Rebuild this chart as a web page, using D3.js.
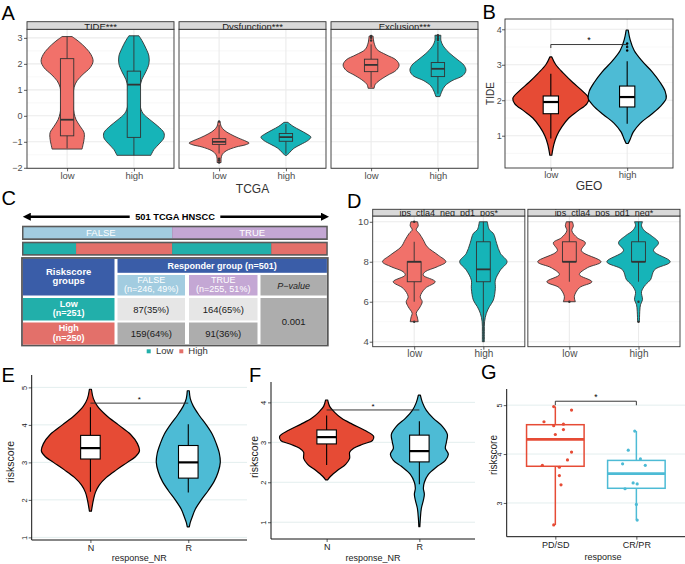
<!DOCTYPE html>
<html>
<head>
<meta charset="utf-8">
<script src="https://cdn.jsdelivr.net/npm/d3@7"></script>
<style>
  body { margin: 0; background: #fff; }
  svg { display: block; }
</style>
</head>
<body>
<svg id="fig"></svg>
<script>
// ---------- A: TCGA, TIDE / Dysfunction / Exclusion ----------
const riskLevels = ["low", "high"];
const tcgaFacets = ["TIDE***", "Dysfunction***", "Exclusion***"];
// violin profiles: [value, density] from top to bottom
const tideLowDens = [[3.05,5],[2.85,12],[2.6,19],[2.35,24],[2.1,26],[1.85,23],[1.6,16],[1.35,10],[1.1,7],[0.8,6],[0.4,6],[0.1,7],[-0.15,9],[-0.4,13],[-0.65,17],[-0.9,17],[-1.1,16],[-1.28,15]];
const tideLowBox = [-1.25, -0.77, -0.15, 2.2, 3.05];   // min, q1, median, q3, max
const tideHighDens = [[3.08,5],[2.9,8],[2.6,12],[2.3,15],[2.0,15],[1.7,12],[1.4,8],[1.1,6],[0.7,5],[0.4,6],[0.1,9],[-0.15,16],[-0.4,24],[-0.65,30],[-0.85,30],[-1.05,26],[-1.3,20],[-1.52,17]];
const tideHighBox = [-1.52, -0.83, 1.2, 1.72, 3.08];
const dysLowDens = [[-0.22,1],[-0.4,2],[-0.55,5],[-0.7,11],[-0.85,19],[-0.98,27],[-1.05,30],[-1.12,26],[-1.2,17],[-1.35,7],[-1.5,3],[-1.65,2],[-1.8,2]];
const dysLowBox = [-1.45, -1.1, -1.0, -0.88, -0.35];
const dysLowOut = [-0.22, -1.65, -1.72, -1.8];
const dysHighDens = [[-0.25,2],[-0.4,7],[-0.55,14],[-0.7,21],[-0.82,25],[-0.95,22],[-1.1,15],[-1.25,8],[-1.4,4],[-1.52,1]];
const dysHighBox = [-1.46, -0.98, -0.82, -0.68, -0.32];
const excLowDens = [[3.07,2],[2.8,3],[2.55,6],[2.35,15],[2.15,25],[1.95,28],[1.75,25],[1.55,16],[1.35,8],[1.2,4],[1.06,3]];
const excLowBox = [1.1, 1.7, 1.96, 2.18, 2.75];
const excLowOut = [2.9, 3.0, 3.07];
const excHighDens = [[3.1,3],[2.9,3],[2.65,6],[2.4,12],[2.15,20],[1.95,26],[1.75,28],[1.55,25],[1.35,14],[1.15,7],[0.95,4],[0.74,2]];
const excHighBox = [0.85, 1.51, 1.81, 2.05, 2.85];
const excHighOut = [2.92, 2.98, 3.04, 3.1];
const aTicks = [-2, -1, 0, 1, 2, 3];

// ---------- B: GEO TIDE ----------
const geoLowDens = [[3.22,1],[3.0,5],[2.75,13],[2.5,22],[2.25,32],[2.05,38],[1.9,36],[1.7,27],[1.5,18],[1.25,11],[1.0,6],[0.75,3],[0.45,1]];
const geoLowBox = [0.92, 1.62, 1.95, 2.12, 2.75];
const geoHighDens = [[3.98,1],[3.7,3],[3.4,7],[3.1,15],[2.8,25],[2.5,33],[2.25,38],[2.05,39],[1.85,34],[1.6,24],[1.35,13],[1.1,6],[0.9,3],[0.78,1]];
const geoHighBox = [1.34, 1.81, 2.09, 2.4, 3.1];
const geoHighOut = [3.4, 3.5, 3.6];
const geoSigAt = 3.57;
const bTicks = [1, 2, 3, 4];

// ---------- C: responder table ----------
const riskGroups = ["Low", "High"];
const riskN = [251, 250];
const responderGroups = ["FALSE", "TRUE"];
const responderN = [246, 255];
const responderPct = [49, 51];
const counts = [[87, 164], [159, 91]];       // rows: Low, High ; cols: FALSE, TRUE
const countPct = [[35, 65], [64, 36]];
const pValue = "0.001";

// ---------- D: IPS ----------
const ipsFacets = ["ips_ctla4_neg_pd1_pos*", "ips_ctla4_pos_pd1_neg*"];
const ips1LowDens = [[10,3.3],[9.8,4],[9.6,2],[9.42,5],[9.1,9],[8.75,13],[8.33,24],[8.0,31.7],[7.75,23],[7.5,11],[7.33,9],[7.0,21],[6.67,11],[6.25,6],[6.0,8],[5.75,6],[5.42,2],[5.25,3],[5.0,4]];
const ips1LowBox = [6, 7, 8, 8, 9];
const ips1LowOut = [10, 5];
const ips1HighDens = [[10,4],[9.6,6],[9.42,10],[8.92,13.3],[8.42,17],[8.0,23.7],[7.58,17],[7.08,12],[6.67,12],[6.08,10],[5.75,6],[5.42,3],[5.0,1.2],[4.5,1],[4.0,1]];
const ips1HighBox = [4, 7, 7.62, 9, 10];
const ips2LowDens = [[10,3],[9.8,4],[9.55,2.5],[9.2,8],[8.95,16],[8.55,12],[8.0,31.7],[7.7,18],[7.36,10],[7.0,22.5],[6.7,10],[6.27,5],[6.0,6]];
const ips2LowBox = [7, 8, 8, 9, 10];
const ips2LowOut = [6];
const ips2HighDens = [[10,4],[9.8,3],[9.55,6],[9.3,13],[8.95,20],[8.55,15],[8.0,31.7],[7.6,16],[7.1,12],[6.85,7],[6.5,3],[6.1,4],[5.85,2],[5.2,1],[5.0,1]];
const ips2HighBox = [7, 8, 8, 9, 10];
const ips2HighOut = [6, 5];
const dTicks = [4, 6, 8, 10];

// ---------- E / F: riskscore by response ----------
const respNR = ["N", "R"];
const eNDens = [[4.95,1],[4.7,3],[4.5,7],[4.25,16],[4.0,28],[3.75,40],[3.5,47],[3.3,49],[3.15,45],[3.0,37],[2.8,26],[2.6,16],[2.4,9],[2.2,5],[2.0,3],[1.7,1]];
const eNBox = [2.22, 3.09, 3.38, 3.72, 4.47];
const eRDens = [[4.91,1],[4.7,2],[4.5,5],[4.25,11],[4.0,18],[3.75,24],[3.5,28],[3.25,31],[3.0,32],[2.75,30],[2.5,26],[2.25,20],[2.0,13],[1.75,7],[1.55,4],[1.4,2],[1.28,1]];
const eRBox = [2.2, 2.58, 3.0, 3.45, 4.02];
const eSigAt = 4.58;
const eTicks = [1, 2, 3, 4, 5];
const fNDens = [[4.06,1],[3.9,3],[3.75,8],[3.6,15],[3.45,26],[3.3,38],[3.15,47],[3.05,46],[2.95,36],[2.85,27],[2.75,23],[2.6,23],[2.45,19],[2.3,11],[2.15,4],[2.06,1]];
const fNBox = [2.43, 2.96, 3.13, 3.31, 3.67];
const fRDens = [[4.18,1],[4.0,3],[3.8,7],[3.6,14],[3.4,23],[3.2,28],[3.0,27],[2.85,26],[2.7,29],[2.55,26],[2.4,18],[2.2,9],[2.0,5],[1.85,4],[1.7,5],[1.55,4],[1.35,2],[1.1,1],[0.89,0.5]];
const fRBox = [1.95, 2.51, 2.78, 3.18, 3.53];
const fSigAt = 3.81;
const fTicks = [1, 2, 3, 4];

// ---------- G: riskscore by clinical response ----------
const respClin = ["PD/SD", "CR/PR"];
const pdValues = [4.97, 4.9, 4.66, 4.61, 4.58, 4.5, 4.4, 4.04, 3.88, 3.77, 3.73, 3.56, 3.37, 2.55];
const pdJitter = [-0.02, 0.2, -0.14, 0.1, -0.02, 0.1, 0, 0.2, 0.15, -0.16, 0.05, 0.05, 0.07, -0.02];
const crValues = [4.47, 4.08, 3.9, 3.8, 3.77, 3.41, 3.39, 3.29, 2.97, 2.65];
const crJitter = [-0.02, -0.1, 0.05, -0.17, 0.11, -0.04, 0.01, -0.14, 0, 0.01];
const pdBox = [2.55, 3.75, 4.3, 4.6, 4.97];
const crBox = [2.65, 3.3, 3.6, 3.87, 4.47];
const gSigAt = 5.08;
const gTicks = [3, 4, 5];

// ---------- drawing ----------
const FONT = "'Liberation Sans', Arial, Helvetica, sans-serif";
const RED = "#F1716A", TEAL = "#16B4B8";
const NRED = "#E64B35", NBLUE = "#4DBBD5";
const CTEAL = "#22AFAA", CRED = "#E3706A";
const svg = d3.select("#fig").attr("width", 685).attr("height", 564).style("font-family", FONT);
svg.append("rect").attr("width", 685).attr("height", 564).attr("fill", "#fff");
const defs = svg.append("defs");
const lhFill = d3.scaleOrdinal().domain(riskLevels).range([RED, TEAL]);
const intFmt = d3.format("d");

function txt(g, x, y, s, o = {}) {
  return g.append("text").attr("x", x).attr("y", y).text(s)
    .attr("font-size", o.size || 9).attr("fill", o.fill || "#000")
    .attr("text-anchor", o.anchor || "middle")
    .attr("font-weight", o.weight || null).attr("font-style", o.style || null);
}
function vtxt(g, x, y, s, o = {}) {
  return g.append("text").attr("transform", `translate(${x},${y}) rotate(-90)`).text(s)
    .attr("font-size", o.size || 9).attr("fill", o.fill || "#000").attr("text-anchor", "middle");
}

function drawViolin(g, v, cx, y, w, st) {
  const area = d3.area().curve(d3.curveCatmullRom)
    .y(d => y(d[0])).x0(d => cx - w(d[1])).x1(d => cx + w(d[1]));
  g.append("path").attr("d", area(v.dens)).attr("fill", v.fill)
    .attr("stroke", st.line).attr("stroke-width", st.vw).attr("stroke-linejoin", "round");
  const [lo, q1, md, q3, hi] = v.box;
  const bh = st.boxHalf;
  g.append("line").attr("x1", cx).attr("x2", cx).attr("y1", y(hi)).attr("y2", y(lo))
    .attr("stroke", st.line).attr("stroke-width", st.bw);
  g.append("rect").attr("x", cx - bh).attr("width", 2 * bh)
    .attr("y", y(q3)).attr("height", y(q1) - y(q3))
    .attr("fill", st.boxFill || v.fill).attr("stroke", st.line).attr("stroke-width", st.bw);
  g.append("line").attr("x1", cx - bh).attr("x2", cx + bh).attr("y1", y(md)).attr("y2", y(md))
    .attr("stroke", st.line).attr("stroke-width", st.mw);
  g.selectAll(null).data(v.out || []).join("circle")
    .attr("cx", cx).attr("cy", d => y(d)).attr("r", st.or).attr("fill", st.line);
}

function bwFrame(g, left, right, y, x, major, minor) {
  const top = y.range()[1], bottom = y.range()[0];
  g.append("rect").attr("x", left).attr("y", top).attr("width", right - left).attr("height", bottom - top).attr("fill", "#fff");
  g.selectAll(null).data(minor).join("line").attr("x1", left).attr("x2", right)
    .attr("y1", d => y(d)).attr("y2", d => y(d)).attr("stroke", "#F3F3F3").attr("stroke-width", 0.6);
  g.selectAll(null).data(major).join("line").attr("x1", left).attr("x2", right)
    .attr("y1", d => y(d)).attr("y2", d => y(d)).attr("stroke", "#EBEBEB").attr("stroke-width", 1.1);
  g.selectAll(null).data(x.domain()).join("line").attr("x1", d => x(d)).attr("x2", d => x(d))
    .attr("y1", top).attr("y2", bottom).attr("stroke", "#EBEBEB").attr("stroke-width", 1.1);
}
function bwBorder(g, left, right, y) {
  const top = y.range()[1], bottom = y.range()[0];
  g.append("rect").attr("x", left).attr("y", top).attr("width", right - left).attr("height", bottom - top)
    .attr("fill", "none").attr("stroke", "#333").attr("stroke-width", 0.9);
}
function strip(g, left, right, top, bottom, label, id, size) {
  defs.append("clipPath").attr("id", id).append("rect")
    .attr("x", left).attr("y", top).attr("width", right - left).attr("height", bottom - top);
  g.append("rect").attr("x", left).attr("y", top).attr("width", right - left).attr("height", bottom - top)
    .attr("fill", "#D9D9D9").attr("stroke", "#333").attr("stroke-width", 0.9);
  txt(g, (left + right) / 2, bottom + 0.4, label, { size, fill: "#1A1A1A" }).attr("clip-path", `url(#${id})`);
}
function styleAxis(a, size, color) {
  a.select(".domain").remove();
  a.selectAll(".tick line").attr("stroke", "#333").attr("stroke-width", 0.8);
  a.selectAll(".tick text").attr("fill", color).attr("font-size", size).attr("font-family", FONT);
}
function bwAxes(g, x, y, ticks, showY, size, pad) {
  const bottom = y.range()[0];
  const ax = g.append("g").attr("transform", `translate(0,${bottom})`)
    .call(d3.axisBottom(x).tickSize(3).tickPadding(0.5));
  styleAxis(ax, size, "#4D4D4D");
  if (showY) {
    const ay = g.append("g").attr("transform", `translate(${x.range()[0]},0)`)
      .call(d3.axisLeft(y).tickValues(ticks).tickFormat(intFmt).tickSize(3).tickPadding(pad));
    styleAxis(ay, size - 0.5, "#4D4D4D");
  }
}
function bracket(g, x1, x2, yp, tip, label, size) {
  g.append("path").attr("d", `M${x1},${yp + tip}V${yp}H${x2}V${yp + tip}`)
    .attr("fill", "none").attr("stroke", "#222").attr("stroke-width", 0.9);
  txt(g, (x1 + x2) / 2, yp - 1.2, label, { size });
}
function classicAxes(g, x, y, ticks, right, size) {
  const left = x.range()[0], top = y.range()[1], bottom = y.range()[0];
  g.selectAll(null).data(ticks).join("line").attr("x1", left).attr("x2", right)
    .attr("y1", d => y(d)).attr("y2", d => y(d)).attr("stroke", "#E3EEEE").attr("stroke-width", 1);
  const ay = g.append("g").attr("transform", `translate(${left},0)`)
    .call(d3.axisLeft(y).tickValues(ticks).tickSize(3).tickFormat(intFmt));
  styleAxis(ay, size, "#222");
  ay.selectAll(".tick text").attr("x", 0).attr("dy", null).attr("y", -5)
    .attr("transform", "rotate(-90)").attr("text-anchor", "middle");
  const ax = g.append("g").attr("transform", `translate(0,${bottom})`)
    .call(d3.axisBottom(x).tickSize(3).tickPadding(2));
  styleAxis(ax, 9, "#222");
  g.append("line").attr("x1", left).attr("x2", left).attr("y1", top).attr("y2", bottom).attr("stroke", "#111").attr("stroke-width", 1);
  g.append("line").attr("x1", left).attr("x2", right).attr("y1", bottom).attr("y2", bottom).attr("stroke", "#111").attr("stroke-width", 1);
}

// panel letters
[["A", 1.5, 20], ["B", 482.5, 18.5], ["C", 1.5, 205], ["D", 347, 207.7], ["E", 1.5, 381.5], ["F", 249, 381.5], ["G", 481, 379.3]]
  .forEach(([s, x, y]) => txt(svg, x, y, s, { size: 20, anchor: "start" }));

// ----- A -----
const aBand = d3.scaleBand().domain(tcgaFacets).range([27, 478]).paddingInner(0.033);
const yA = d3.scaleLinear().domain([-2.02, 3.33]).range([168.3, 29.3]);
const wA = d3.scaleLinear().domain([0, 30]).range([0, 30]);
const tcgaViolins = [
  { facet: tcgaFacets[0], group: "low", dens: tideLowDens, box: tideLowBox },
  { facet: tcgaFacets[0], group: "high", dens: tideHighDens, box: tideHighBox },
  { facet: tcgaFacets[1], group: "low", dens: dysLowDens, box: dysLowBox, out: dysLowOut },
  { facet: tcgaFacets[1], group: "high", dens: dysHighDens, box: dysHighBox },
  { facet: tcgaFacets[2], group: "low", dens: excLowDens, box: excLowBox, out: excLowOut },
  { facet: tcgaFacets[2], group: "high", dens: excHighDens, box: excHighBox, out: excHighOut }
];
tcgaFacets.forEach((f, i) => {
  const left = aBand(f), right = left + aBand.bandwidth();
  const x = d3.scalePoint().domain(riskLevels).range([left, right]).padding(0.6);
  const g = svg.append("g");
  bwFrame(g, left, right, yA, x, aTicks, [-1.5, -0.5, 0.5, 1.5, 2.5]);
  tcgaViolins.filter(v => v.facet === f).forEach(v =>
    drawViolin(g, { ...v, fill: lhFill(v.group) }, x(v.group), yA, wA,
      { line: "#333", vw: 0.9, bw: 0.9, mw: 1.8, boxHalf: 0.1 * x.step(), or: 1.2 }));
  bwBorder(g, left, right, yA);
  strip(g, left, right, 21.7, yA.range()[1], f, "stripA" + i, 9.5);
  bwAxes(g, x, yA, aTicks, i === 0, 9.5, 1.5);
});
txt(svg, 252.5, 193, "TCGA", { size: 12, fill: "#333" });

// ----- B -----
{
  const g = svg.append("g");
  const x = d3.scalePoint().domain(riskLevels).range([505, 673]).padding(0.6);
  const y = d3.scaleLinear().domain([0.09, 4.29]).range([168, 19]);
  const w = d3.scaleLinear().domain([0, 40]).range([0, 40]);
  bwFrame(g, 505, 673, y, x, bTicks, [0.5, 1.5, 2.5, 3.5]);
  const st = { line: "#000", vw: 1.2, bw: 1.1, mw: 2.2, boxHalf: 0.1 * x.step(), boxFill: "#fff", or: 1.2 };
  drawViolin(g, { dens: geoLowDens, box: geoLowBox, fill: NRED }, x("low"), y, w, st);
  drawViolin(g, { dens: geoHighDens, box: geoHighBox, out: geoHighOut, fill: NBLUE }, x("high"), y, w, st);
  bwBorder(g, 505, 673, y);
  bwAxes(g, x, y, bTicks, true, 9.5, 0.3);
  bracket(g, x("low"), x("high"), y(geoSigAt), 3.5, "*", 9);
  txt(svg, 589, 190, "GEO", { size: 12, fill: "#333" });
  vtxt(svg, 493.5, 93.5, "TIDE", { size: 10, fill: "#333" });
}

// ----- C -----
{
  const g = svg.append("g");
  const total = d3.sum(responderN);
  const cL = 22, cR = 327.8;
  defs.append("marker").attr("id", "arr").attr("viewBox", "0 0 10 10").attr("refX", 6).attr("refY", 5)
    .attr("markerUnits", "userSpaceOnUse").attr("markerWidth", 9).attr("markerHeight", 8)
    .attr("orient", "auto-start-reverse").append("path").attr("d", "M0,0L10,5L0,10z").attr("fill", "#000");
  g.append("line").attr("x1", cL + 4).attr("x2", cR - 2).attr("y1", 216.7).attr("y2", 216.7)
    .attr("stroke", "#000").attr("stroke-width", 2.4)
    .attr("marker-start", "url(#arr)").attr("marker-end", "url(#arr)");
  const title = `${total} TCGA HNSCC`;
  const tw = title.length * 5.9;
  g.append("rect").attr("x", 175 - tw / 2 - 4).attr("y", 211).attr("width", tw + 8).attr("height", 11).attr("fill", "#fff");
  txt(g, 175, 220, title, { size: 9.3, weight: "bold" });

  const xC = d3.scaleLinear().domain([0, total]).range([cL + 1.5, cR - 1.5]);
  // bar 1: responder status
  g.append("rect").attr("x", cL).attr("y", 225.7).attr("width", cR - cL).attr("height", 14.3).attr("fill", "#5A5A5A");
  const respFill = d3.scaleOrdinal().domain(responderGroups).range(["#A2CCE0", "#C4A7D4"]);
  const respStart = d3.cumsum([0, ...responderN]);
  responderGroups.forEach((r, i) => {
    g.append("rect").attr("x", xC(respStart[i])).attr("width", xC(respStart[i + 1]) - xC(respStart[i]))
      .attr("y", 227.3).attr("height", 11).attr("fill", respFill(r));
    txt(g, (xC(respStart[i]) + xC(respStart[i + 1])) / 2 + 3, 236, r, { size: 9.5, fill: "#fff" });
  });
  // bar 2: risk group inside each responder group
  g.append("rect").attr("x", cL).attr("y", 241.7).attr("width", cR - cL).attr("height", 14).attr("fill", "#5A5A5A");
  const riskFill = d3.scaleOrdinal().domain(riskGroups).range([CTEAL, CRED]);
  const segs = [];
  responderGroups.forEach((r, j) => riskGroups.forEach((k, i) => segs.push({ k, n: counts[i][j] })));
  const segStart = d3.cumsum([0, ...segs.map(s => s.n)]);
  segs.forEach((s, i) => g.append("rect").attr("x", xC(segStart[i])).attr("width", xC(segStart[i + 1]) - xC(segStart[i]))
    .attr("y", 243.3).attr("height", 10.8).attr("fill", riskFill(s.k)));

  // table
  g.append("rect").attr("x", cL).attr("y", 258).attr("width", cR - cL).attr("height", 87.5)
    .attr("fill", "#fff").attr("stroke", "#575757").attr("stroke-width", 1.8);
  const colX = [[22.9, 114.5], [117.5, 185], [189, 257.5], [260.5, 326.9]];
  const rowY = [[258.9, 272.8], [275, 295.5], [298, 320.5], [322.5, 344.6]];
  function cell(c0, c1, r0, r1, fill, lines, o) {
    const x0 = colX[c0][0], x1 = colX[c1][1], y0 = rowY[r0][0], y1 = rowY[r1][1];
    g.append("rect").attr("x", x0).attr("y", y0).attr("width", x1 - x0).attr("height", y1 - y0).attr("fill", fill);
    const cx = (x0 + x1) / 2, cy = (y0 + y1) / 2;
    if (lines.length === 1) txt(g, cx, cy + 3.3, lines[0], o);
    else { txt(g, cx, cy - 2.6, lines[0], o); txt(g, cx, cy + 7.2, lines[1], o); }
  }
  const head = { size: 9, fill: "#fff", weight: "bold" };
  cell(0, 0, 0, 1, "#3A5DA8", ["Riskscore", "groups"], { ...head, size: 9.5 });
  cell(1, 3, 0, 0, "#3A5DA8", [`Responder group (n=${total})`], head);
  responderGroups.forEach((r, j) =>
    cell(j + 1, j + 1, 1, 1, respFill(r), [r, `(n=${responderN[j]}, ${responderPct[j]}%)`], { size: 9, fill: "#fff" }));
  cell(3, 3, 1, 1, "#ADADAD", ["P\u2212value"], { size: 9, fill: "#222", style: "italic" });
  riskGroups.forEach((k, i) => {
    cell(0, 0, i + 2, i + 2, riskFill(k), [k, `(n=${riskN[i]})`], head);
    responderGroups.forEach((r, j) =>
      cell(j + 1, j + 1, i + 2, i + 2, i === 0 ? "#E6E6E6" : "#ADADAD", [`${counts[i][j]}(${countPct[i][j]}%)`], { size: 9.5, fill: "#1A1A1A" }));
  });
  cell(3, 3, 2, 3, "#ADADAD", [pValue], { size: 9.5, fill: "#1A1A1A" });

  // legend
  const lg = [["Low", 146.7, 156], ["High", 179.3, 188.3]];
  lg.forEach(([k, sx, tx]) => {
    g.append("rect").attr("x", sx).attr("y", 349.3).attr("width", 4).attr("height", 4).attr("fill", riskFill(k));
    txt(g, tx, 353.5, k, { size: 9.5, fill: "#333", anchor: "start" });
  });
}

// ----- D -----
{
  const dBand = d3.scaleBand().domain(ipsFacets).range([372.7, 680]).paddingInner(0.0194);
  const y = d3.scaleLinear().domain([3.75, 10.29]).range([346.7, 216]);
  const w = d3.scaleLinear().domain([0, 32]).range([0, 32]);
  const ipsViolins = [
    { facet: ipsFacets[0], group: "low", dens: ips1LowDens, box: ips1LowBox, out: ips1LowOut },
    { facet: ipsFacets[0], group: "high", dens: ips1HighDens, box: ips1HighBox },
    { facet: ipsFacets[1], group: "low", dens: ips2LowDens, box: ips2LowBox, out: ips2LowOut },
    { facet: ipsFacets[1], group: "high", dens: ips2HighDens, box: ips2HighBox, out: ips2HighOut }
  ];
  ipsFacets.forEach((f, i) => {
    const left = dBand(f), right = left + dBand.bandwidth();
    const x = d3.scalePoint().domain(riskLevels).range([left, right]).padding(0.6);
    const g = svg.append("g");
    bwFrame(g, left, right, y, x, dTicks, [5, 7, 9]);
    ipsViolins.filter(v => v.facet === f).forEach(v =>
      drawViolin(g, { ...v, fill: lhFill(v.group) }, x(v.group), y, w,
        { line: "#333", vw: 0.9, bw: 0.9, mw: 1.8, boxHalf: 0.1 * x.step(), or: 1.2 }));
    bwBorder(g, left, right, y);
    strip(g, left, right, 209.3, y.range()[1], f, "stripD" + i, 9);
    bwAxes(g, x, y, dTicks, i === 0, 10, 1);
  });
}

// ----- E -----
{
  const g = svg.append("g");
  const x = d3.scalePoint().domain(respNR).range([31.7, 247]).padding(0.6);
  const y = d3.scaleLinear().domain([0.93, 5.33]).range([540, 375]);
  const w = d3.scaleLinear().domain([0, 50]).range([0, 50]);
  classicAxes(g, x, y, eTicks, 247, 7.5);
  const st = { line: "#000", vw: 1.2, bw: 1.1, mw: 2.2, boxHalf: 0.1 * x.step(), boxFill: "#fff", or: 1.2 };
  drawViolin(g, { dens: eNDens, box: eNBox, fill: NRED }, x("N"), y, w, st);
  drawViolin(g, { dens: eRDens, box: eRBox, fill: NBLUE }, x("R"), y, w, st);
  bracket(g, x("N"), x("R"), y(eSigAt), 0, "*", 8);
  txt(svg, 139.3, 561, "response_NR", { size: 9, fill: "#222" });
  vtxt(svg, 13.5, 462, "riskscore", { size: 10.5, fill: "#222" });
}

// ----- F -----
{
  const g = svg.append("g");
  const x = d3.scalePoint().domain(respNR).range([271, 475]).padding(0.6);
  const y = d3.scaleLinear().domain([0.58, 4.51]).range([539, 382]);
  const w = d3.scaleLinear().domain([0, 50]).range([0, 50]);
  classicAxes(g, x, y, fTicks, 475, 7.5);
  const st = { line: "#000", vw: 1.2, bw: 1.1, mw: 2.2, boxHalf: 0.105 * x.step(), boxFill: "#fff", or: 1.2 };
  drawViolin(g, { dens: fNDens, box: fNBox, fill: NRED }, x("N"), y, w, st);
  drawViolin(g, { dens: fRDens, box: fRBox, fill: NBLUE }, x("R"), y, w, st);
  bracket(g, x("N"), x("R"), y(fSigAt), 0, "*", 8);
  txt(svg, 373, 561, "response_NR", { size: 9, fill: "#222" });
  vtxt(svg, 257.5, 457, "riskscore", { size: 10.5, fill: "#222" });
}

// ----- G -----
{
  const g = svg.append("g");
  const x = d3.scalePoint().domain(respClin).range([506.7, 685]).padding(0.6);
  const y = d3.scaleLinear().domain([2.31, 5.33]).range([536.7, 389]);
  classicAxes(g, x, y, gTicks, 685, 7);
  const groups = [
    { k: "PD/SD", vals: pdValues, jit: pdJitter, box: pdBox, col: NRED },
    { k: "CR/PR", vals: crValues, jit: crJitter, box: crBox, col: NBLUE }
  ];
  groups.forEach(gr => {
    const cx = x(gr.k), bh = 0.355 * x.step();
    const [lo, q1, md, q3, hi] = gr.box;
    g.append("line").attr("x1", cx).attr("x2", cx).attr("y1", y(hi)).attr("y2", y(q3)).attr("stroke", gr.col).attr("stroke-width", 1.5);
    g.append("line").attr("x1", cx).attr("x2", cx).attr("y1", y(q1)).attr("y2", y(lo)).attr("stroke", gr.col).attr("stroke-width", 1.5);
    g.append("rect").attr("x", cx - bh).attr("width", 2 * bh).attr("y", y(q3)).attr("height", y(q1) - y(q3))
      .attr("fill", "none").attr("stroke", gr.col).attr("stroke-width", 1.5);
    g.append("line").attr("x1", cx - bh).attr("x2", cx + bh).attr("y1", y(md)).attr("y2", y(md)).attr("stroke", gr.col).attr("stroke-width", 2.6);
    g.selectAll(null).data(gr.vals).join("circle")
      .attr("cx", (d, i) => cx + gr.jit[i] * x.step()).attr("cy", d => y(d)).attr("r", 1.6).attr("fill", gr.col);
  });
  bracket(g, x("PD/SD"), x("CR/PR"), y(gSigAt), 4, "*", 8.5);
  txt(svg, 603, 560, "response", { size: 9, fill: "#222" });
  vtxt(svg, 496.5, 455, "riskscore", { size: 10, fill: "#222" });
}
</script>
</body>
</html>
